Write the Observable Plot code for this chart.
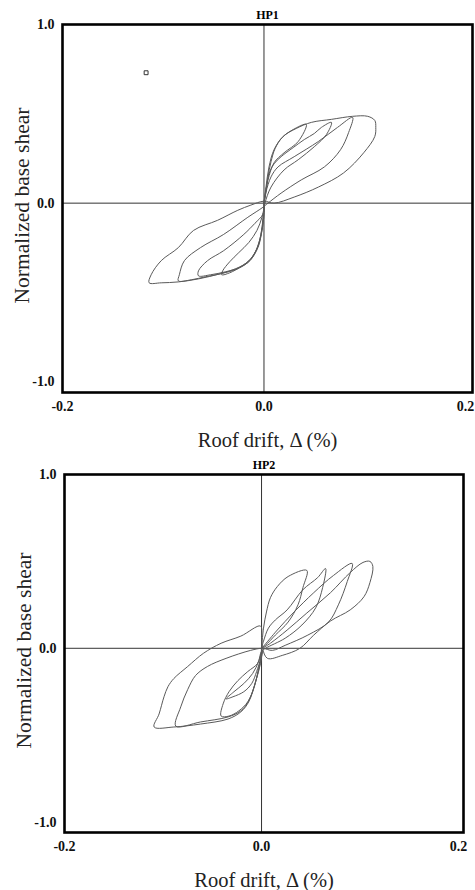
<!DOCTYPE html>
<html>
<head>
<meta charset="utf-8">
<script src="https://cdn.jsdelivr.net/npm/d3@7"></script>
<script src="https://cdn.jsdelivr.net/npm/@observablehq/plot@0.6"></script>
<style>
  html, body { margin: 0; padding: 0; background: #fff; }
  #chart svg { display: block; }
</style>
</head>
<body>
<div id="chart"></div>
<script>
// ---- Data (roof drift %, normalized base shear) ----
const panelTitles = ["HP1", "HP2"];
const xTickValues = [-0.2, 0.0, 0.2];
const yTickValues = [-1.0, 0.0, 1.0];
const xLabel = "Roof drift, \u0394 (%)";
const yLabel = "Normalized base shear";

// HP1 cycles
const hp1Cycle1 = [[0,0],[.002,.062],[.004,.147],[.007,.232],[.011,.305],[.018,.367],[.029,.412],[.042,.441],
  [.034,.345],[.020,.282],[.010,.226],[.004,.130],[.001,.045],[0,0],
  [0,-.023],[-.002,-.079],[-.007,-.153],[-.015,-.220],[-.025,-.277],[-.034,-.328],[-.041,-.379],[-.042,-.401],
  [-.034,-.390],[-.023,-.356],[-.013,-.311],[-.006,-.243],[-.002,-.153],[0,-.062],[0,0]];
const hp1Cycle2 = [[0,0],[.002,.073],[.005,.164],[.010,.220],[.017,.260],[.029,.311],[.040,.356],[.050,.390],[.057,.424],[.067,.452],
  [.062,.384],[.050,.316],[.034,.243],[.020,.186],[.007,.090],[.001,0],
  [-.001,-.062],[-.009,-.113],[-.020,-.175],[-.040,-.266],[-.056,-.322],[-.065,-.379],[-.065,-.407],
  [-.053,-.401],[-.038,-.384],[-.025,-.362],[-.014,-.322],[-.007,-.254],[-.003,-.175],[-.001,-.096],[0,-.023],[0,0]];
const hp1Cycle3 = [[0,0],[.002,.062],[.007,.147],[.014,.203],[.030,.260],[.054,.345],[.073,.424],[.088,.480],
  [.084,.395],[.076,.299],[.060,.203],[.037,.130],[.017,.056],[.004,0],
  [-.001,-.023],[-.016,-.079],[-.040,-.175],[-.063,-.249],[-.079,-.322],[-.084,-.401],[-.085,-.435],
  [-.072,-.429],[-.058,-.412],[-.043,-.395],[-.028,-.367],[-.016,-.328],[-.008,-.266],[-.003,-.175],[-.001,-.085],[0,-.023]];
const hp1Cycle4 = [[0,0],[.002,.090],[.005,.203],[.010,.299],[.019,.373],[.032,.418],[.047,.452],[.067,.469],[.088,.486],[.103,.486],[.110,.463],[.111,.424],
  [.110,.373],[.099,.282],[.079,.169],[.054,.090],[.030,.034],[.010,0],[0,.011],
  [-.013,-.011],[-.026,-.040],[-.046,-.096],[-.070,-.153],[-.085,-.249],[-.102,-.322],[-.112,-.401],[-.114,-.446],
  [-.102,-.446],[-.085,-.441],[-.065,-.424],[-.043,-.395],[-.026,-.367],[-.014,-.322],[-.006,-.249],[-.002,-.153],[0,-.062],[0,0]];
const hp1Marker = [[-0.117, 0.73]];

// HP2 cycles
const hp2Cycle1 = [[0,0],[.002,.116],[.005,.209],[.009,.291],[.016,.355],[.027,.413],[.046,.448],
  [.042,.349],[.037,.250],[.027,.151],[.014,.076],[.004,.017],[0,0],
  [0,-.017],[-.003,-.076],[-.009,-.145],[-.018,-.203],[-.028,-.250],[-.036,-.291],
  [-.029,-.279],[-.018,-.250],[-.010,-.203],[-.005,-.134],[-.001,-.058],[0,0]];
const hp2Cycle2 = [[0,0],[.002,.041],[.007,.116],[.014,.163],[.026,.221],[.042,.337],[.057,.407],[.065,.459],
  [.062,.349],[.055,.233],[.041,.134],[.024,.058],[.004,0],
  [0,-.017],[-.004,-.087],[-.014,-.134],[-.024,-.186],[-.033,-.250],[-.039,-.320],[-.041,-.390],
  [-.033,-.390],[-.023,-.360],[-.014,-.308],[-.007,-.215],[-.003,-.116],[0,-.029],[0,0]];
const hp2Cycle3 = [[0,0],[.002,.012],[.016,.105],[.032,.203],[.053,.320],[.073,.419],[.092,.488],
  [.087,.384],[.078,.250],[.068,.151],[.047,.076],[.024,.017],[.011,-.012],[.001,0],
  [-.011,-.012],[-.036,-.058],[-.055,-.105],[-.067,-.157],[-.075,-.238],[-.082,-.337],[-.087,-.448],
  [-.062,-.424],[-.034,-.395],[-.021,-.360],[-.013,-.302],[-.006,-.192],[-.001,-.087],[.001,-.012]];
const hp2Cycle4 = [[.001,0],[.009,.029],[.026,.105],[.046,.203],[.070,.320],[.090,.436],[.103,.494],[.110,.500],[.113,.471],
  [.110,.378],[.104,.297],[.090,.221],[.070,.157],[.053,.076],[.039,0],[.021,-.041],[.006,-.058],[.001,0],[0,.058],[-.001,.128],
  [-.021,.070],[-.041,.029],[-.059,-.029],[-.075,-.105],[-.089,-.174],[-.095,-.221],[-.099,-.279],[-.104,-.378],[-.109,-.453],
  [-.089,-.453],[-.062,-.436],[-.034,-.407],[-.021,-.366],[-.013,-.308],[-.006,-.192],[-.002,-.099],[.001,-.017]];

function toRows(cycles) {
  const rows = [];
  cycles.forEach((c, i) => c.forEach(([x, y]) => rows.push({cycle: i + 1, drift: x, shear: y})));
  return rows;
}
const fmt = d => d.toFixed(1);
const serif = "'Liberation Serif', 'Times New Roman', serif";

function panel({title, cycles, marker, height, margins, xDomain, yDomain, xTitleDy}) {
  const rows = toRows(cycles);
  const marks = [
    Plot.ruleX([0], {stroke: "#333", strokeWidth: 1}),
    Plot.ruleY([0], {stroke: "#333", strokeWidth: 1}),
    Plot.line(rows, {x: "drift", y: "shear", z: "cycle", curve: "catmull-rom", stroke: "#5a5a5a", strokeWidth: 1}),
    Plot.frame({stroke: "#000", strokeWidth: 2.6}),
    Plot.axisX({ticks: xTickValues, tickFormat: fmt, tickSize: 0, tickPadding: 9, fontSize: 14, fontWeight: "bold", fill: "#111", label: null}),
    Plot.axisY({ticks: yTickValues, tickFormat: fmt, tickSize: 0, tickPadding: 8, fontSize: 14, fontWeight: "bold", fill: "#111", label: null}),
    Plot.text([title], {text: d => d, frameAnchor: "top", lineAnchor: "middle", dy: -9, fontSize: 12, fontWeight: "bold", fill: "#000"}),
    Plot.text([yLabel], {text: d => d, frameAnchor: "left", textAnchor: "middle", lineAnchor: "middle", dx: -40, dy: -3, rotate: -90, fontSize: 21.5, fontWeight: "normal", fill: "#222"}),
    Plot.text([xLabel], {text: d => d, frameAnchor: "bottom", textAnchor: "middle", lineAnchor: "middle", dy: xTitleDy, fontSize: 20.5, fontWeight: "normal", fill: "#222"})
  ];
  if (marker) marks.push(Plot.dot(marker, {x: d => d[0], y: d => d[1], symbol: "square", r: 2.2, stroke: "#333", strokeWidth: 1, fill: "none"}));
  return Plot.plot({
    width: 475,
    height,
    ...margins,
    style: {fontFamily: serif, background: "#fff", color: "#000"},
    x: {domain: xDomain},
    y: {domain: yDomain},
    marks
  });
}

const chart = document.getElementById("chart");
chart.append(panel({
  title: panelTitles[0],
  cycles: [hp1Cycle1, hp1Cycle2, hp1Cycle3, hp1Cycle4],
  marker: hp1Marker,
  height: 454,
  margins: {marginLeft: 62, marginRight: 3, marginTop: 24, marginBottom: 62},
  xDomain: [-0.2, 0.207],
  yDomain: [-1.06, 1],
  xTitleDy: 48
}));
chart.append(panel({
  title: panelTitles[1],
  cycles: [hp2Cycle1, hp2Cycle2, hp2Cycle3, hp2Cycle4],
  marker: null,
  height: 436,
  margins: {marginLeft: 64, marginRight: 12, marginTop: 20, marginBottom: 58},
  xDomain: [-0.2, 0.205],
  yDomain: [-1.06, 1],
  xTitleDy: 48
}));
</script>
</body>
</html>
